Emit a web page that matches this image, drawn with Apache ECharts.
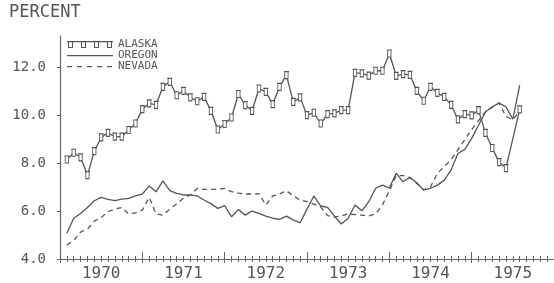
<!DOCTYPE html>
<html>
<head>
<meta charset="utf-8">
<script src="https://cdn.jsdelivr.net/npm/echarts@6/dist/echarts.min.js"></script>
<style>
  html, body { margin: 0; padding: 0; background: #fff; }
  #chart { width: 554px; height: 283px; }
</style>
</head>
<body>
<div id="chart"></div>
<script>
// monthly values, first point = Feb 1970 (month index 1 on the x axis)
const years = ['1970', '1971', '1972', '1973', '1974', '1975'];
const firstMonth = 1;

const alaska = [
  8.15, 8.43, 8.24, 7.50, 8.50, 9.07, 9.26, 9.10, 9.10, 9.38, 9.65, 10.25,
  10.49, 10.43, 11.18, 11.39, 10.83, 11.01, 10.74, 10.58, 10.76, 10.18, 9.40, 9.63,
  9.90, 10.88, 10.42, 10.18, 11.11, 10.97, 10.46, 11.18, 11.67, 10.55, 10.74, 10.00,
  10.10, 9.65, 10.04, 10.07, 10.21, 10.21, 11.76, 11.74, 11.65, 11.85, 11.85, 12.57,
  11.64, 11.71, 11.68, 11.01, 10.60, 11.18, 10.93, 10.76, 10.43, 9.82, 10.04, 9.99,
  10.21, 9.26, 8.63, 8.04, 7.79, null, 10.24
];
const oregon = [
  5.07, 5.70, 5.90, 6.15, 6.43, 6.57, 6.49, 6.43, 6.50, 6.53, 6.63, 6.71,
  7.04, 6.80, 7.26, 6.85, 6.74, 6.67, 6.67, 6.63, 6.46, 6.31, 6.11, 6.23,
  5.76, 6.06, 5.83, 6.00, 5.90, 5.79, 5.70, 5.65, 5.79, 5.63, 5.51, 6.08,
  6.63, 6.21, 6.15, 5.79, 5.46, 5.70, 6.25, 6.01, 6.39, 6.95, 7.08, 6.96,
  7.57, 7.22, 7.40, 7.18, 6.88, 6.95, 7.08, 7.29, 7.71, 8.40, 8.57, 9.03,
  9.58, 10.13, 10.35, 10.50, 10.35, 9.83, 11.25
];
const nevada = [
  4.58, 4.77, 5.12, 5.25, 5.58, 5.73, 5.98, 6.08, 6.15, 5.88, 5.92, 6.04,
  6.57, 5.88, 5.83, 6.08, 6.29, 6.54, 6.67, 6.94, 6.90, 6.90, 6.92, 6.94,
  6.81, 6.75, 6.71, 6.71, 6.73, 6.25, 6.63, 6.71, 6.85, 6.63, 6.46, 6.39,
  6.29, 6.17, 5.81, 5.75, 5.79, 5.88, 5.85, 5.83, 5.79, 5.88, 6.25, 6.85,
  7.48, 7.48, 7.40, 7.15, 6.88, 7.01, 7.57, 7.85, 8.13, 8.56, 8.98, 9.40,
  9.77, 10.13, 10.33, 10.51, 9.94, 9.81, 10.17
];

const ink = '#555';
const axisInk = '#666';
const mono = "'DejaVu Sans Mono', monospace";

const pairs = (vals) => vals.map((v, i) => [firstMonth + i, v]);

const markerPath = 'path://M0,0 H6 M1,0 V7 H5 V0';

// legend icons as filled shapes (square outlines use reversed inner winding for holes)
const boxAt = (x) => `M${x},0 h5 v7 h-5 z M${x + 1},1.2 v4.8 h3 v-4.8 z`;
const legendAlaska = 'path://M0,0 h46 v1.2 h-46 z ' + [1, 14, 27, 40].map(boxAt).join(' ');
const legendOregon = 'path://M0,3 h46 v1.2 h-46 z M0,0 h0.01 v0.01 z M0,7 h0.01 v0.01 z';
const legendNevada = 'path://' + [0, 10, 20, 30, 40].map((x) => `M${x},3 h5 v1.2 h-5 z`).join(' ') +
  ' M0,0 h0.01 v0.01 z M0,7 h0.01 v0.01 z M46,0 h0.01 v0.01 z';

const chart = echarts.init(document.getElementById('chart'), null, { renderer: 'canvas' });

const tickAxis = (extra) => Object.assign({
  type: 'value',
  position: 'bottom',
  min: 0,
  max: 72,
  interval: 12,
  axisLabel: { show: false },
  splitLine: { show: false },
  minorSplitLine: { show: false },
}, extra);

const iconStyle = { color: ink, borderWidth: 0 };

chart.setOption({
  animation: false,
  backgroundColor: '#fff',
  title: {
    text: 'PERCENT',
    left: 9,
    top: 4,
    padding: 0,
    textStyle: { fontFamily: mono, fontSize: 17, fontWeight: 'normal', color: ink },
  },
  legend: {
    orient: 'vertical',
    left: 67,
    top: 39,
    padding: 0,
    itemGap: 0,
    itemWidth: 46,
    itemHeight: 7,
    selectedMode: false,
    textStyle: { fontFamily: mono, fontSize: 11, color: ink, lineHeight: 11 },
    data: [
      { name: 'ALASKA', icon: legendAlaska, itemStyle: iconStyle },
      { name: 'OREGON', icon: legendOregon, itemStyle: iconStyle },
      { name: 'NEVADA', icon: legendNevada, itemStyle: iconStyle },
    ],
  },
  grid: {
    left: 60,
    right: 0,
    top: 36,
    bottom: 24,
    outerBoundsMode: 'none',
  },
  xAxis: [
    tickAxis({
      axisLine: { show: true, lineStyle: { color: axisInk, width: 1.2 } },
      axisTick: { show: true, inside: false, length: 4, lineStyle: { color: axisInk } },
      minorTick: { show: true, splitNumber: 12, length: 3, lineStyle: { color: axisInk } },
    }),
    tickAxis({
      axisLine: { show: false },
      axisTick: { show: true, inside: true, length: 7, lineStyle: { color: axisInk } },
      minorTick: { show: true, splitNumber: 12, length: 3, lineStyle: { color: axisInk } },
    }),
    {
      type: 'category',
      position: 'bottom',
      data: years,
      boundaryGap: true,
      axisLine: { show: false },
      axisTick: { show: false },
      splitLine: { show: false },
      axisLabel: { margin: 7, fontFamily: mono, fontSize: 16, color: ink },
    },
  ],
  yAxis: {
    type: 'value',
    min: 4,
    max: 13.3,
    interval: 2,
    axisLine: { show: true, lineStyle: { color: axisInk, width: 1.2 } },
    axisTick: { show: true, length: 3, lineStyle: { color: axisInk } },
    splitLine: { show: false },
    axisLabel: {
      margin: 14,
      showMaxLabel: false,
      fontFamily: mono,
      fontSize: 14,
      color: ink,
      padding: [0, 0, 6, 0],
      formatter: (v) => v.toFixed(1),
    },
  },
  series: [
    {
      name: 'ALASKA',
      type: 'line',
      data: pairs(alaska),
      connectNulls: true,
      symbol: markerPath,
      symbolSize: [5, 7],
      showSymbol: true,
      showAllSymbol: true,
      lineStyle: { color: ink, width: 1.3 },
      itemStyle: { color: '#fff', borderColor: ink, borderWidth: 1 },
      z: 3,
    },
    {
      name: 'OREGON',
      type: 'line',
      data: pairs(oregon),
      symbol: 'none',
      lineStyle: { color: ink, width: 1.3 },
      itemStyle: { color: ink },
    },
    {
      name: 'NEVADA',
      type: 'line',
      data: pairs(nevada),
      symbol: 'none',
      lineStyle: { color: ink, width: 1.3, type: [5, 4] },
      itemStyle: { color: ink },
    },
  ],
});
</script>
</body>
</html>
